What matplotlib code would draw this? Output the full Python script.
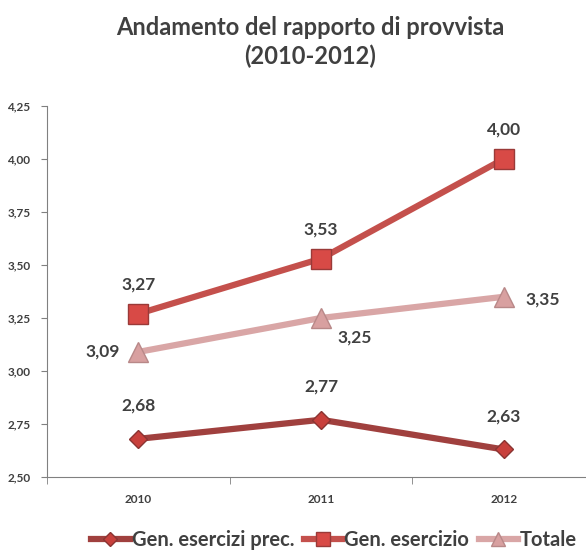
import numpy as np
import matplotlib.pyplot as plt

anni = ["2010", "2011", "2012"]
gen_prec = [2.68, 2.77, 2.63]
gen_eserc = [3.27, 3.53, 4.00]
totale = [3.09, 3.25, 3.35]

plt.rcParams['font.family'] = ['Lato', 'DejaVu Sans']
txt = "#404040"

fig = plt.figure(figsize=(5.86, 5.51), dpi=100)
ax = fig.add_axes([47/586, 74/551, 548/586, 371/551])
x = np.arange(len(anni))

ax.plot(x, gen_prec, color="#A0403E", lw=4.5, marker="D", ms=9.5,
        mfc="#C8403C", mec="#8A3432", mew=1, label="Gen. esercizi prec.", zorder=3)
ax.plot(x, gen_eserc, color="#C4504C", lw=4.5, marker="s", ms=14,
        mfc="#D84A46", mec="#9A3A38", mew=1, label="Gen. esercizio", zorder=3)
ax.plot(x, totale, color="#D9A6A6", lw=4.5, marker="^", ms=14,
        mfc="#D8A0A0", mec="#B88888", mew=1, label="Totale", zorder=2)

def lab(v):
    return f"{v:.2f}".replace(".", ",")

for i, v in enumerate(gen_prec):
    ax.annotate(lab(v), (i, v), xytext=(0, 24), textcoords="offset points",
                ha="center", va="center", fontsize=12.5, fontweight="bold", color=txt)
for i, v in enumerate(gen_eserc):
    ax.annotate(lab(v), (i, v), xytext=(0, 21), textcoords="offset points",
                ha="center", va="center", fontsize=12.5, fontweight="bold", color=txt)
tot_off = [(-26, 0), (24, -14), (28, -2)]
for i, v in enumerate(totale):
    ax.annotate(lab(v), (i, v), xytext=tot_off[i], textcoords="offset points",
                ha="center", va="center", fontsize=12.5, fontweight="bold", color=txt)

ax.set_xlim(-0.5, 2.5)
ax.set_ylim(2.5, 4.25)
ax.set_yticks(np.arange(2.5, 4.26, 0.25))
ax.set_yticklabels([lab(t) for t in np.arange(2.5, 4.26, 0.25)])
ax.set_xticks(x)
ax.set_xticklabels(anni)
ax.set_xticks([-0.5, 0.5, 1.5, 2.5], minor=True)
ax.tick_params(axis="x", which="major", length=0, pad=12)
ax.tick_params(axis="x", which="minor", length=5, color="#808080")
ax.tick_params(axis="y", length=4, color="#808080", pad=8)
for t in ax.get_xticklabels() + ax.get_yticklabels():
    t.set_fontsize(8.5)
    t.set_fontweight("bold")
    t.set_color(txt)
for s in ["top", "right"]:
    ax.spines[s].set_visible(False)
for s in ["left", "bottom"]:
    ax.spines[s].set_color("#808080")

fig.text(310/586, 1 - 42/551, "Andamento del rapporto di provvista\n(2010-2012)",
         ha="center", va="center", fontsize=17, fontweight="bold", color=txt,
         linespacing=1.3)

leg = fig.legend(loc="center", bbox_to_anchor=(334/586, 1 - 540/551), ncol=3,
                 frameon=False, handlelength=1.9, handletextpad=0.1,
                 columnspacing=0.5, markerscale=0.75,
                 prop={"size": 14.5, "weight": "bold"})
for t in leg.get_texts():
    t.set_color(txt)

fig.savefig("out.png", dpi=100)
